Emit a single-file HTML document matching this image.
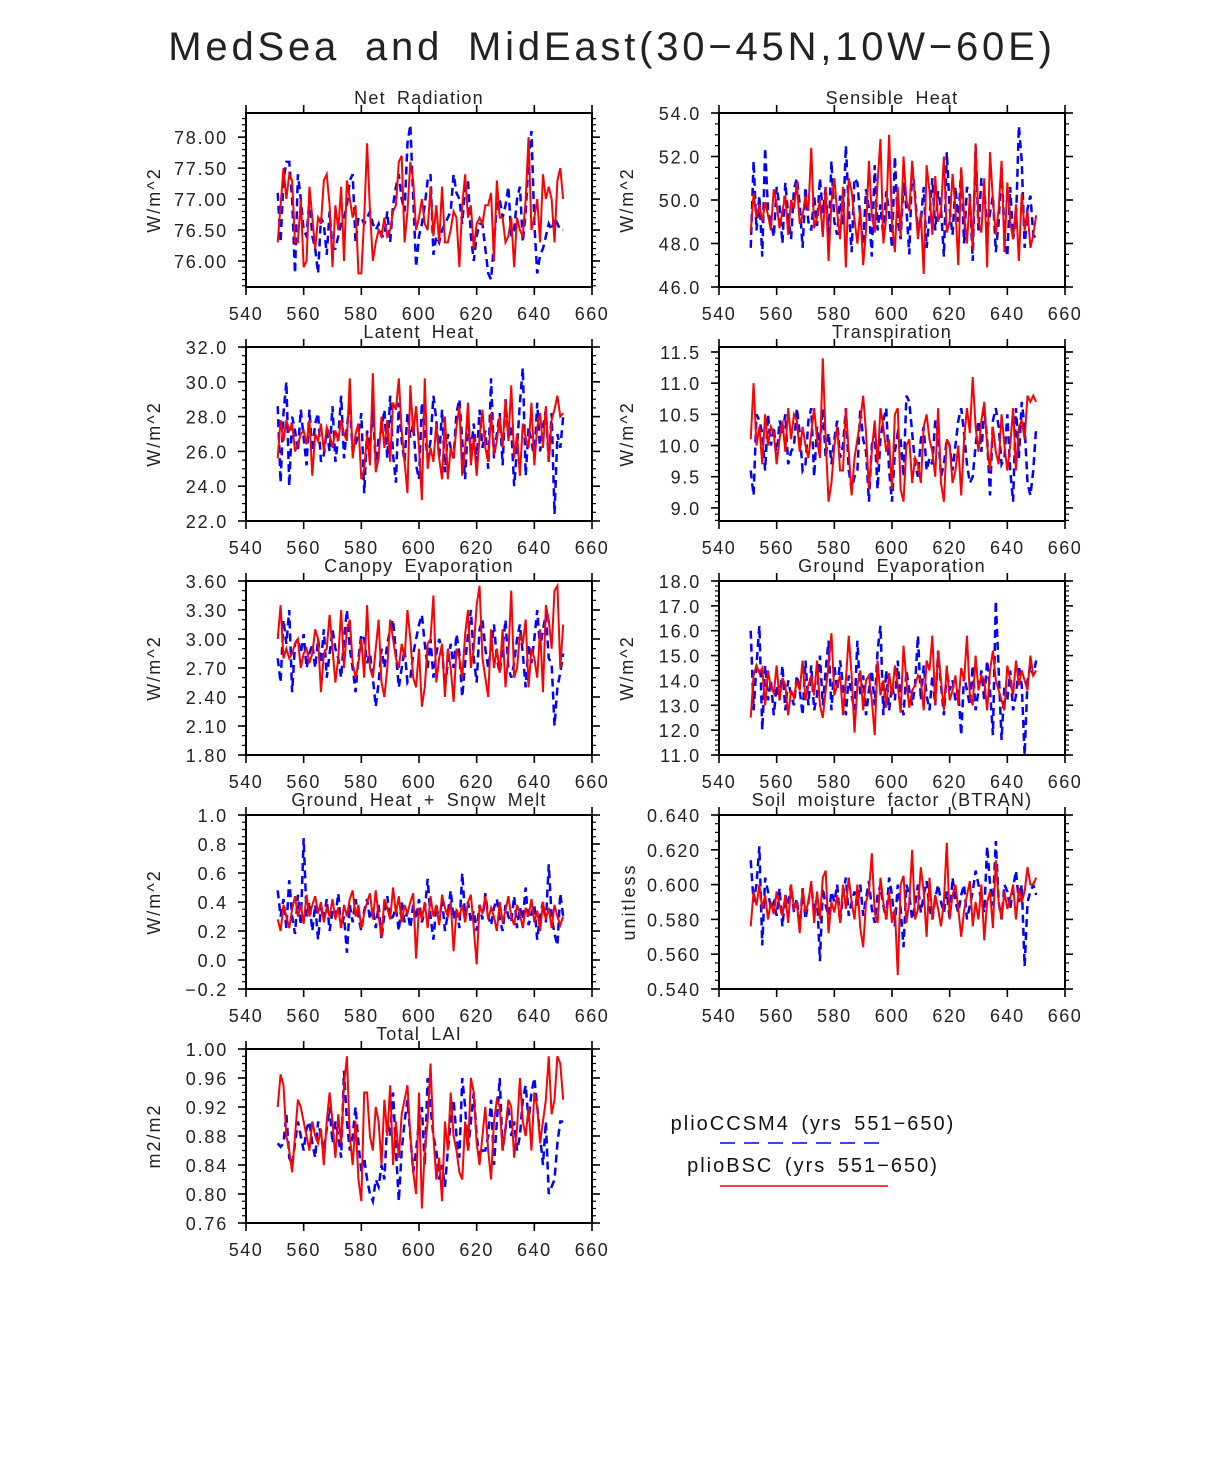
<!DOCTYPE html>
<html><head><meta charset="utf-8"><style>
html,body{margin:0;padding:0;background:#fff;}
svg{display:block;font-family:"Liberation Sans","DejaVu Sans",sans-serif;}
</style></head><body>
<svg id="chart" width="1224" height="1462" viewBox="0 0 1224 1462" xmlns="http://www.w3.org/2000/svg">
<text x="612" y="60" text-anchor="middle" font-size="40" fill="#222" letter-spacing="3.8" word-spacing="10">MedSea and MidEast(30−45N,10W−60E)</text>
<g>
<text x="813" y="1130" text-anchor="middle" font-size="20" fill="#111" letter-spacing="2" word-spacing="4">plioCCSM4 (yrs 551−650)</text>
<line x1="720" y1="1143" x2="888" y2="1143" stroke="#0000ff" stroke-width="1.5" stroke-dasharray="15 9"/>
<text x="813" y="1172" text-anchor="middle" font-size="20" fill="#111" letter-spacing="2" word-spacing="4">plioBSC (yrs 551−650)</text>
<line x1="720" y1="1186" x2="888" y2="1186" stroke="#ff0000" stroke-width="1.5"/>
</g>
</svg>
<script>
const years = []; for (let y = 551; y <= 650; y++) years.push(y);
const xTicks = [540,560,580,600,620,640,660];

const netRadRed = [76.3,76.9,77.5,77.0,77.4,77.3,76.3,76.3,77.0,75.9,76.0,77.2,76.7,76.2,76.7,76.6,77.3,77.4,76.9,75.9,76.9,76.5,77.2,76.0,77.3,77.0,76.7,76.9,75.8,75.8,76.7,77.9,76.8,76.0,76.3,76.5,76.4,76.7,76.4,76.5,76.8,76.9,77.6,77.7,76.3,76.8,77.6,77.3,76.5,76.7,77.0,76.6,76.5,77.2,76.4,76.9,76.3,77.2,76.3,76.3,76.5,76.8,76.7,75.9,76.9,77.4,76.7,76.9,76.2,76.6,76.7,76.6,76.9,76.9,77.1,76.0,77.3,76.7,76.7,76.3,76.4,76.7,75.9,76.7,76.5,76.4,77.0,78.0,76.5,76.7,77.0,76.3,77.4,77.0,77.2,77.0,76.3,77.3,77.5,77.0];
const netRadBlue = [77.1,76.3,77.3,77.6,77.6,77.0,75.8,77.4,77.0,76.5,76.4,77.0,76.4,76.2,75.8,76.7,76.6,76.1,76.8,76.2,76.2,76.4,76.6,76.7,76.9,77.3,77.4,76.3,76.7,76.7,76.6,76.7,76.8,76.6,76.5,76.6,76.4,76.4,76.8,76.3,76.9,77.2,77.4,77.0,76.8,77.9,78.2,77.0,75.9,76.4,76.6,76.9,77.3,77.4,76.1,76.4,76.3,76.5,76.6,76.7,76.8,77.4,77.1,77.0,76.6,77.2,77.3,76.4,76.0,76.4,76.6,76.6,76.2,75.8,75.7,76.3,76.9,77.0,76.7,76.9,77.2,76.4,76.5,77.0,77.2,76.3,76.8,77.6,78.1,76.6,75.8,76.1,76.2,76.4,76.6,76.5,76.7,76.6,76.5,76.5];
const sensRed = [48.5,50.3,49.2,49.8,49.0,49.9,49.3,48.6,50.5,49.8,48.7,49.5,50.2,48.4,50.0,49.6,50.8,48.9,49.3,50.2,49.5,52.4,48.7,49.2,50.0,48.3,50.6,47.2,49.9,51.0,49.4,48.2,50.6,46.9,51.0,50.4,49.1,48.0,49.6,47.0,48.6,51.8,49.3,48.5,50.8,52.8,48.0,49.2,53.0,49.0,47.6,50.6,48.3,52.0,50.0,49.5,51.8,50.0,48.2,49.4,46.6,51.6,50.4,48.4,51.1,49.0,49.5,52.0,48.5,49.0,51.2,49.6,47.0,51.5,49.4,48.0,50.2,47.7,52.6,49.0,48.5,51.0,46.9,52.2,50.0,48.4,49.6,51.8,47.6,50.8,49.0,48.2,49.8,47.2,50.3,48.6,49.5,47.8,48.4,49.3];
const sensBlue = [47.8,51.8,48.6,50.2,47.4,52.4,49.5,49.0,48.3,50.6,49.7,48.0,50.8,49.3,48.2,50.5,51.0,49.8,47.8,50.6,49.0,48.6,50.2,48.8,51.0,49.4,50.6,48.2,51.8,49.0,48.4,50.2,48.8,52.5,49.6,47.6,51.0,50.8,49.2,48.0,50.5,49.6,47.4,51.6,48.6,49.8,48.3,50.4,49.4,47.8,52.0,49.0,48.2,50.8,49.6,47.5,51.6,50.2,48.6,49.0,50.6,47.8,49.2,51.0,48.6,50.4,49.6,47.4,52.2,49.6,48.4,50.6,49.0,51.4,48.0,50.6,50.2,47.2,52.5,48.6,51.0,50.6,48.5,49.4,50.2,47.6,49.0,51.6,48.4,47.4,50.6,48.2,49.0,53.4,51.8,47.8,49.6,50.2,48.4,48.2];
const latRed = [25.6,27.8,26.6,27.8,27.2,27.6,26.0,26.4,27.0,27.2,26.4,27.8,24.6,27.0,26.6,27.6,26.0,27.4,27.0,26.2,27.2,26.6,27.8,27.0,26.6,30.2,25.6,27.0,27.6,24.4,25.0,27.0,25.2,30.5,24.8,25.6,28.0,26.2,27.8,25.4,28.8,28.4,30.2,27.2,25.4,23.6,29.8,27.0,28.6,26.2,23.2,30.2,25.0,26.2,25.4,27.6,25.6,24.4,28.0,24.4,26.2,25.6,27.4,28.6,24.6,26.2,28.8,25.2,26.8,24.6,26.8,28.4,26.2,25.4,28.2,25.8,26.6,28.0,26.2,29.0,26.6,29.8,25.6,27.0,24.6,27.6,26.8,26.2,28.8,25.2,27.4,28.2,26.2,28.6,25.4,27.8,28.4,29.2,28.0,28.2];
const latBlue = [28.6,24.2,28.2,30.0,24.0,28.0,27.2,26.0,28.4,26.8,25.2,28.4,26.0,27.6,28.2,25.4,25.8,27.2,26.0,28.6,25.4,26.8,29.2,25.6,27.4,28.8,26.0,26.4,27.0,28.2,23.6,27.2,26.2,28.6,25.2,26.8,27.2,28.4,25.6,29.2,25.8,24.2,28.8,26.6,25.4,28.2,26.8,27.6,25.2,24.4,28.8,27.2,25.6,26.6,29.2,27.8,25.6,28.4,24.8,27.0,26.2,25.6,28.2,29.0,26.6,24.4,27.8,26.0,27.6,25.4,28.4,26.2,27.2,25.0,30.2,25.6,27.0,28.2,25.2,29.0,26.8,27.4,24.0,26.2,28.8,30.8,24.6,27.4,26.6,25.6,28.8,26.0,27.4,28.4,25.4,28.2,22.4,27.0,26.2,28.0];
const trRed = [10.1,11.0,10.0,10.3,9.7,10.5,10.0,10.3,10.2,9.7,10.1,10.4,9.9,10.6,10.1,10.5,10.4,9.9,10.3,10.0,9.8,10.2,10.6,10.1,9.8,11.4,10.1,9.1,9.4,10.0,10.3,9.6,9.6,10.6,9.9,9.2,9.8,10.1,10.4,10.8,10.2,9.3,9.9,10.4,9.7,10.6,10.3,9.9,10.1,9.3,10.5,10.6,9.3,9.1,10.0,10.1,9.4,9.8,9.7,9.4,10.3,10.5,10.1,9.9,9.5,10.6,9.4,9.1,10.1,10.0,9.4,9.6,10.0,9.2,10.1,10.6,10.2,11.1,10.3,9.9,10.4,10.7,10.0,9.6,10.3,9.9,9.7,10.5,10.0,9.6,10.0,10.6,9.6,10.3,10.4,10.1,10.8,10.7,10.8,10.7];
const trBlue = [9.6,9.2,10.5,10.4,10.2,9.6,10.5,10.0,10.3,9.8,10.4,10.2,10.5,9.7,9.9,10.0,10.6,10.2,9.6,9.7,10.4,10.6,9.5,10.3,10.0,10.6,9.8,10.2,9.7,10.1,10.4,9.8,10.0,10.6,9.6,9.3,9.5,9.6,10.6,10.1,9.9,9.1,10.0,10.2,9.3,10.1,10.4,10.6,9.6,9.1,9.9,10.2,10.1,9.5,10.8,10.7,10.2,9.7,9.5,10.1,10.3,9.6,9.8,9.7,10.4,10.2,9.5,9.7,10.1,10.0,9.6,10.0,10.4,10.6,10.2,9.7,9.4,9.5,10.0,10.4,9.9,10.6,10.1,9.2,10.4,10.6,10.3,9.7,9.8,10.5,9.6,9.1,10.6,9.8,10.7,10.3,9.4,9.2,9.6,10.3];
const canRed = [3.0,3.35,2.8,2.9,2.8,2.85,2.95,3.0,2.7,2.85,2.9,2.75,2.85,3.1,3.0,2.45,2.85,2.9,3.25,2.9,2.55,2.8,3.3,2.7,3.1,3.2,2.75,2.6,2.75,3.0,2.6,3.35,2.7,2.6,2.9,3.2,2.55,2.4,2.7,3.2,3.0,2.8,2.7,2.95,2.8,3.3,3.0,2.6,2.5,2.9,2.3,2.5,2.95,3.0,3.45,2.55,2.8,2.95,2.4,2.9,2.7,2.35,2.9,2.8,2.6,3.05,3.3,2.7,2.9,3.35,3.55,2.8,2.6,2.4,3.1,2.7,2.9,2.65,3.1,2.5,2.85,3.5,2.6,2.7,3.05,2.95,3.2,2.5,2.9,2.8,2.6,3.1,2.45,3.35,3.2,2.9,3.5,3.55,2.7,3.15];
const canBlue = [2.8,2.55,3.2,2.95,3.3,2.45,2.95,3.0,2.85,3.05,2.7,2.85,2.95,2.7,3.0,2.75,3.1,2.6,2.85,3.1,2.9,2.8,2.6,3.0,3.3,2.9,2.7,2.45,2.8,3.05,3.0,2.75,2.85,2.6,2.3,2.55,2.9,2.7,2.95,3.1,3.2,2.85,2.5,2.7,2.9,2.55,2.6,2.85,3.0,3.15,3.25,2.95,2.7,3.0,2.6,2.85,3.0,2.9,2.5,2.75,2.95,2.7,3.05,2.85,2.4,2.75,3.05,3.3,2.8,2.55,3.1,3.2,2.9,2.7,2.9,3.15,2.8,2.65,2.9,3.2,2.7,2.6,2.75,3.0,3.15,2.85,2.5,2.95,2.75,3.0,3.3,2.9,3.1,3.25,2.8,2.75,2.1,2.5,2.65,2.85];
const geRed = [12.5,14.2,14.6,14.3,14.5,13.0,14.4,13.7,13.5,14.6,13.2,14.1,13.8,12.6,13.6,13.3,14.0,13.6,14.8,13.2,13.8,14.2,13.4,14.8,13.0,12.5,13.6,14.6,15.9,13.4,13.8,14.2,12.6,14.0,15.8,14.2,11.9,13.8,14.4,12.8,14.0,14.2,13.2,11.8,14.8,13.4,14.0,12.9,14.3,13.4,14.6,13.8,12.7,15.4,14.0,12.9,13.6,13.8,14.2,14.0,12.8,14.8,14.4,15.8,13.0,15.2,14.0,12.8,14.6,13.2,13.6,14.2,13.0,14.5,14.0,15.8,13.4,13.0,15.0,13.6,14.2,14.0,12.8,14.4,15.2,14.0,13.6,13.2,12.8,14.6,14.0,13.4,14.8,13.8,14.4,14.0,13.6,15.0,14.2,14.4];
const geBlue = [16.0,12.8,14.6,16.2,12.0,14.6,13.2,14.0,12.6,13.8,13.2,14.6,12.8,14.0,13.4,13.0,14.2,13.6,12.6,14.8,13.0,14.6,12.8,13.4,15.0,13.0,14.4,15.6,12.8,14.6,13.6,14.8,13.8,12.6,14.2,13.4,12.8,15.6,13.4,14.2,12.6,13.6,14.4,13.0,15.2,16.2,12.6,14.4,12.8,13.8,13.2,14.8,13.2,12.6,14.4,13.6,13.0,13.8,15.8,13.2,14.6,13.4,12.8,14.2,13.0,15.2,13.8,12.6,14.4,13.6,14.0,13.2,13.6,11.8,14.2,13.6,13.0,14.6,12.8,13.6,14.4,13.2,14.8,13.6,11.8,17.2,14.4,11.6,13.8,13.2,14.4,12.8,13.4,14.6,13.8,11.0,14.0,14.6,14.2,14.8];
const ghRed = [0.28,0.2,0.38,0.3,0.22,0.35,0.44,0.3,0.38,0.25,0.45,0.3,0.38,0.44,0.32,0.4,0.26,0.36,0.3,0.42,0.28,0.36,0.22,0.38,0.3,0.42,0.48,0.3,0.38,0.22,0.32,0.4,0.46,0.28,0.48,0.3,0.16,0.42,0.36,0.28,0.5,0.32,0.44,0.26,0.38,0.32,0.4,0.46,0.01,0.36,0.28,0.4,0.22,0.44,0.3,0.38,0.24,0.45,0.36,0.3,0.4,0.06,0.34,0.3,0.38,0.26,0.4,0.45,0.22,-0.03,0.38,0.32,0.44,0.28,0.36,0.3,0.2,0.4,0.26,0.34,0.44,0.3,0.24,0.38,0.32,0.22,0.36,0.3,0.42,0.26,0.34,0.2,0.4,0.28,0.36,0.22,0.38,0.3,0.24,0.3];
const ghBlue = [0.48,0.3,0.42,0.22,0.55,0.3,0.18,0.45,0.24,0.84,0.3,0.4,0.2,0.38,0.14,0.36,0.28,0.42,0.2,0.34,0.3,0.46,0.22,0.3,0.05,0.38,0.26,0.42,0.3,0.2,0.34,0.42,0.28,0.36,0.22,0.38,0.14,0.32,0.44,0.28,0.3,0.36,0.2,0.4,0.26,0.34,0.22,0.38,0.28,0.42,0.26,0.34,0.56,0.3,0.14,0.38,0.26,0.42,0.2,0.32,0.48,0.28,0.36,0.22,0.6,0.3,0.4,0.26,0.34,0.2,0.38,0.28,0.46,0.3,0.24,0.36,0.42,0.28,0.2,0.38,0.3,0.26,0.44,0.22,0.36,0.28,0.5,0.24,0.32,0.38,0.14,0.3,0.4,0.26,0.66,0.3,0.18,0.1,0.46,0.3];
const soilRed = [0.576,0.596,0.588,0.6,0.586,0.594,0.58,0.59,0.583,0.596,0.588,0.582,0.594,0.578,0.6,0.586,0.59,0.572,0.598,0.584,0.59,0.602,0.578,0.596,0.58,0.604,0.608,0.572,0.59,0.584,0.594,0.578,0.6,0.586,0.604,0.59,0.58,0.6,0.575,0.564,0.59,0.596,0.618,0.584,0.578,0.604,0.59,0.58,0.596,0.578,0.586,0.548,0.6,0.605,0.578,0.59,0.62,0.58,0.586,0.61,0.596,0.57,0.604,0.58,0.594,0.586,0.576,0.59,0.624,0.58,0.594,0.6,0.586,0.57,0.585,0.594,0.602,0.576,0.59,0.58,0.6,0.568,0.59,0.596,0.575,0.614,0.59,0.58,0.596,0.586,0.592,0.6,0.58,0.598,0.59,0.596,0.61,0.6,0.6,0.604];
const soilBlue = [0.614,0.59,0.6,0.622,0.565,0.604,0.596,0.586,0.59,0.582,0.598,0.576,0.594,0.588,0.6,0.584,0.592,0.574,0.598,0.58,0.59,0.6,0.584,0.594,0.556,0.598,0.588,0.582,0.596,0.59,0.6,0.578,0.594,0.604,0.582,0.59,0.596,0.588,0.6,0.582,0.592,0.602,0.586,0.578,0.594,0.6,0.588,0.58,0.604,0.594,0.576,0.6,0.586,0.564,0.6,0.594,0.58,0.588,0.6,0.584,0.594,0.602,0.586,0.58,0.592,0.6,0.59,0.584,0.596,0.58,0.604,0.59,0.584,0.594,0.6,0.58,0.588,0.596,0.608,0.6,0.59,0.584,0.622,0.6,0.588,0.625,0.59,0.58,0.6,0.596,0.586,0.598,0.608,0.59,0.6,0.553,0.59,0.596,0.6,0.594];
const laiRed = [0.92,0.965,0.95,0.88,0.86,0.83,0.88,0.93,0.92,0.9,0.88,0.86,0.9,0.88,0.87,0.89,0.84,0.9,0.94,0.9,0.85,0.91,0.87,0.95,0.99,0.88,0.84,0.9,0.82,0.79,0.94,0.94,0.88,0.86,0.92,0.9,0.84,0.93,0.88,0.95,0.84,0.9,0.85,0.91,0.93,0.95,0.88,0.83,0.8,0.94,0.78,0.86,0.9,0.98,0.88,0.82,0.85,0.79,0.9,0.86,0.94,0.88,0.86,0.83,0.82,0.9,0.86,0.96,0.94,0.87,0.84,0.88,0.92,0.86,0.82,0.9,0.93,0.92,0.86,0.89,0.93,0.92,0.85,0.89,0.96,0.9,0.88,0.92,0.86,0.94,0.92,0.87,0.9,0.93,0.99,0.91,0.93,0.99,0.98,0.93];
const laiBlue = [0.87,0.865,0.87,0.91,0.85,0.84,0.87,0.9,0.88,0.86,0.89,0.9,0.87,0.85,0.9,0.88,0.86,0.89,0.92,0.87,0.9,0.88,0.85,0.97,0.9,0.86,0.88,0.92,0.87,0.83,0.85,0.82,0.8,0.79,0.82,0.81,0.84,0.82,0.9,0.88,0.94,0.86,0.79,0.86,0.9,0.93,0.88,0.83,0.86,0.9,0.92,0.84,0.96,0.92,0.88,0.86,0.82,0.84,0.81,0.86,0.9,0.93,0.88,0.85,0.96,0.92,0.86,0.9,0.94,0.88,0.85,0.86,0.86,0.88,0.93,0.84,0.9,0.96,0.86,0.89,0.92,0.88,0.9,0.86,0.88,0.93,0.95,0.9,0.94,0.96,0.92,0.88,0.84,0.9,0.8,0.81,0.82,0.87,0.9,0.9];

const netRadTicks = ["76.00","76.50","77.00","77.50","78.00"];
const sensTicks = ["46.0","48.0","50.0","52.0","54.0"];
const latTicks = ["22.0","24.0","26.0","28.0","30.0","32.0"];
const trTicks = ["9.0","9.5","10.0","10.5","11.0","11.5"];
const canTicks = ["1.80","2.10","2.40","2.70","3.00","3.30","3.60"];
const geTicks = ["11.0","12.0","13.0","14.0","15.0","16.0","17.0","18.0"];
const ghTicks = ["−0.2","0.0","0.2","0.4","0.6","0.8","1.0"];
const soilTicks = ["0.540","0.560","0.580","0.600","0.620","0.640"];
const laiTicks = ["0.76","0.80","0.84","0.88","0.92","0.96","1.00"];

const panels = [
 {key:"net-radiation",title:"Net Radiation",col:0,row:0,ymin:75.58,ymax:78.39,minor:0.1,ylab:"W/m^2",ticks:netRadTicks,red:netRadRed,blue:netRadBlue},
 {key:"sensible-heat",title:"Sensible Heat",col:1,row:0,ymin:46,ymax:54,minor:0.5,ylab:"W/m^2",ticks:sensTicks,red:sensRed,blue:sensBlue},
 {key:"latent-heat",title:"Latent Heat",col:0,row:1,ymin:22,ymax:32,minor:0.5,ylab:"W/m^2",ticks:latTicks,red:latRed,blue:latBlue},
 {key:"transpiration",title:"Transpiration",col:1,row:1,ymin:8.79,ymax:11.58,minor:0.1,ylab:"W/m^2",ticks:trTicks,red:trRed,blue:trBlue},
 {key:"canopy-evaporation",title:"Canopy Evaporation",col:0,row:2,ymin:1.8,ymax:3.6,minor:0.1,ylab:"W/m^2",ticks:canTicks,red:canRed,blue:canBlue},
 {key:"ground-evaporation",title:"Ground Evaporation",col:1,row:2,ymin:11,ymax:18,minor:0.2,ylab:"W/m^2",ticks:geTicks,red:geRed,blue:geBlue},
 {key:"ground-heat",title:"Ground Heat + Snow Melt",col:0,row:3,ymin:-0.2,ymax:1.0,minor:0.05,ylab:"W/m^2",ticks:ghTicks,red:ghRed,blue:ghBlue},
 {key:"soil-moisture",title:"Soil moisture factor (BTRAN)",col:1,row:3,ymin:0.54,ymax:0.64,minor:0.005,ylab:"unitless",ticks:soilTicks,red:soilRed,blue:soilBlue},
 {key:"total-lai",title:"Total LAI",col:0,row:4,ymin:0.76,ymax:1.0,minor:0.01,ylab:"m2/m2",ticks:laiTicks,red:laiRed,blue:laiBlue}
];
const colX=[246,719], rowY=[113,347,581,815,1049], W=346, H=174;
const NS="http://www.w3.org/2000/svg";
const svg=document.getElementById('chart');
function mk(tag,attrs,parent){const e=document.createElementNS(NS,tag);for(const k in attrs)e.setAttribute(k,attrs[k]);parent.appendChild(e);return e;}
panels.forEach(p=>{
  const x0=colX[p.col], y0=rowY[p.row];
  const xs=v=>x0+(v-540)/120*W;
  const ys=v=>y0+H-(v-p.ymin)/(p.ymax-p.ymin)*H;
  const g=mk('g',{},svg);
  
  
  const t=mk('text',{x:x0+W/2,y:y0-9,'text-anchor':'middle','font-size':18,fill:'#222','letter-spacing':1.2,'word-spacing':5},g);
  t.textContent=p.title;
  
  
  const yl=mk('text',{transform:`translate(${x0-(p.ylab==='unitless'?84:86)},${y0+H/2}) rotate(-90)`,'text-anchor':'middle','font-size':18,fill:'#222','letter-spacing':2},g);
  yl.textContent=p.ylab;
  
  
  const start=Math.ceil(p.ymin/p.minor-1e-6);
  for(let k=start;k*p.minor<=p.ymax+1e-9;k++){
    const yy=ys(k*p.minor);
    mk('line',{x1:x0-4,x2:x0,y1:yy,y2:yy,stroke:'#000','stroke-width':1.2},g);
    mk('line',{x1:x0+W,x2:x0+W+4,y1:yy,y2:yy,stroke:'#000','stroke-width':1.2},g);
  }
  p.ticks.forEach(lbl=>{
    const v=parseFloat(lbl.replace('−','-'));
    const yy=ys(v);
    mk('line',{x1:x0-8,x2:x0,y1:yy,y2:yy,stroke:'#000','stroke-width':1.6},g);
    mk('line',{x1:x0+W,x2:x0+W+8,y1:yy,y2:yy,stroke:'#000','stroke-width':1.6},g);
    const tl=mk('text',{x:x0-18,y:yy+7,'text-anchor':'end','font-size':18,fill:'#222','letter-spacing':1.8},g);
    tl.textContent=lbl;
    
    
  });
  xTicks.forEach(v=>{
    const xx=xs(v);
    mk('line',{x1:xx,x2:xx,y1:y0+H,y2:y0+H+8,stroke:'#000','stroke-width':1.6},g);
    mk('line',{x1:xx,x2:xx,y1:y0-8,y2:y0,stroke:'#000','stroke-width':1.6},g);
    const tl=mk('text',{x:xx,y:y0+H+33,'text-anchor':'middle','font-size':18,fill:'#222','letter-spacing':1.5},g);
    tl.textContent=String(v);
    
    
  });
  const blue=mk('polyline',{points:p.blue.map((v,i)=>xs(years[i])+','+ys(v)).join(' '),fill:'none',stroke:'#0000ff','stroke-width':2.5,'stroke-dasharray':'8 5'},g);
  
  
  const red=mk('polyline',{points:p.red.map((v,i)=>xs(years[i])+','+ys(v)).join(' '),fill:'none',stroke:'#ff0000','stroke-width':2},g);
  
  
  const fr=mk('rect',{x:x0,y:y0,width:W,height:H,fill:'none',stroke:'#000','stroke-width':2},g);
  
  
});
</script>
</body></html>
